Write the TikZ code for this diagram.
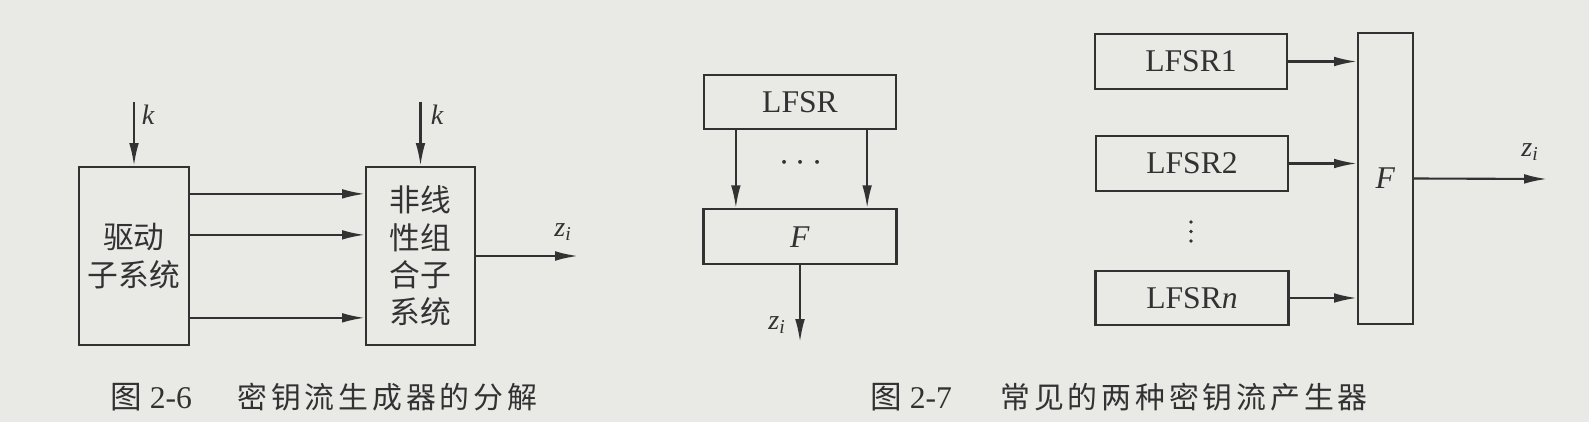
\documentclass[tikz,border=0pt]{standalone}
\usepackage{fontspec}
\setmainfont{Liberation Serif}
\newfontfamily\cjk{Noto Sans CJK SC}
\newfontfamily\cjkcap[LetterSpace=13]{Noto Sans CJK SC}
\usetikzlibrary{arrows.meta, positioning, calc}
\definecolor{paper}{RGB}{233,233,230}
\definecolor{ink}{RGB}{50,50,50}
\tikzset{
  blk/.style={rectangle, draw=ink, line width=1.3pt, inner sep=0pt, text=ink,
              align=center},
  cnblk/.style={blk, font=\cjk\fontsize{17.5}{21.3}\selectfont},
  enblk/.style={blk, font=\fontsize{18}{21}\selectfont},
  arr/.style={-{Latex[length=13pt,width=5.5pt]}, draw=ink, line width=1.2pt},
  lbl/.style={text=ink, inner sep=0pt, font=\fontsize{16}{18}\selectfont\itshape},
  capnum/.style={text=ink, inner sep=0pt, anchor=west,
                 font=\fontsize{18}{20}\selectfont},
  captxt/.style={text=ink, inner sep=0pt, anchor=west,
                 font=\cjkcap\fontsize{17}{20}\selectfont},
}
\newcommand{\zsub}{z\textsubscript{i}}

\begin{document}
\begin{tikzpicture}[x=0.02cm, y=-0.02cm]
  \fill[paper] (0,0) rectangle (1589,422);
  \useasboundingbox (0,0) rectangle (1589,422);

  % figure 2-6
  \node[cnblk, minimum width=2.2cm, minimum height=3.56cm] (drv) at (134,256) {驱动\\子系统};
  \node[cnblk, minimum width=2.18cm, minimum height=3.56cm] (comb) at (420.5,256) {非线\\性组\\合子\\系统};
  \coordinate (k1) at (134,102);
  \coordinate (k2) at (420.5,102);
  \coordinate (zo1) at (578,256);
  \draw[arr] (k1) -- (drv.north);
  \draw[arr] (k2) -- (comb.north);
  \node[lbl] (klab1) at (148,115) {k};
  \node[lbl] (klab2) at (437,115) {k};
  \foreach \d in {0.56, 1.38, 3.04}
    \draw[arr] ([yshift=-\d cm]drv.north east) -- ([yshift=-\d cm]comb.north west);
  \draw[arr] (comb.east) -- (zo1);
  \node[lbl] (zlab1) at (563,232) {\zsub};

  % figure 2-7, left
  \node[enblk, minimum width=3.84cm, minimum height=1.08cm] (lfsr) at (800,102) {LFSR};
  \node[enblk, minimum width=3.86cm, minimum height=1.1cm, below=1.56cm of lfsr] (fbox) {\textit{F}};
  \draw[arr] ([xshift=0.66cm]lfsr.south west) -- ([xshift=0.66cm]lfsr.south west |- fbox.north);
  \draw[arr] ([xshift=-0.6cm]lfsr.south east) -- ([xshift=-0.6cm]lfsr.south east |- fbox.north);
  \node[text=ink, inner sep=0pt, font=\fontsize{20}{20}\selectfont] (hdots) at (801,163) {$\cdots$};
  \coordinate (zo2) at (800,342);
  \draw[arr] (fbox.south) -- (zo2);
  \node[lbl] (zlab2) at (777,325) {\zsub};

  % figure 2-7, right
  \node[enblk, minimum width=3.84cm, minimum height=1.1cm] (L1) at (1191,61.5) {LFSR1};
  \node[enblk, minimum width=3.84cm, minimum height=1.1cm] (L2) at (1192,163.5) {LFSR2};
  \node[enblk, minimum width=3.86cm, minimum height=1.08cm] (Ln) at (1192,298) {LFSR\textit{n}};
  \foreach \y in {222, 231.5, 241}
    \fill[ink] (1191,\y) circle (1.1pt);
  \node[enblk, minimum width=1.1cm, minimum height=5.82cm] (F2) at (1385.5,178.5) {\textit{F}};
  \foreach \n in {L1, L2, Ln}
    \draw[arr] (\n.east) -- (\n.east -| F2.west);
  \coordinate (zo3) at (1547,179);
  \draw[arr] (F2.east) -- (zo3);
  \node[lbl] (zlab3) at (1530,152) {\zsub};

  % captions
  \node[capnum] (cap1n) at (110,397) {{\cjk 图} 2-6};
  \node[captxt] (cap1t) at (237,397) {密钥流生成器的分解};
  \node[capnum] (cap2n) at (870,397) {{\cjk 图} 2-7};
  \node[captxt] (cap2t) at (1000,397) {常见的两种密钥流产生器};
\end{tikzpicture}
\end{document}
